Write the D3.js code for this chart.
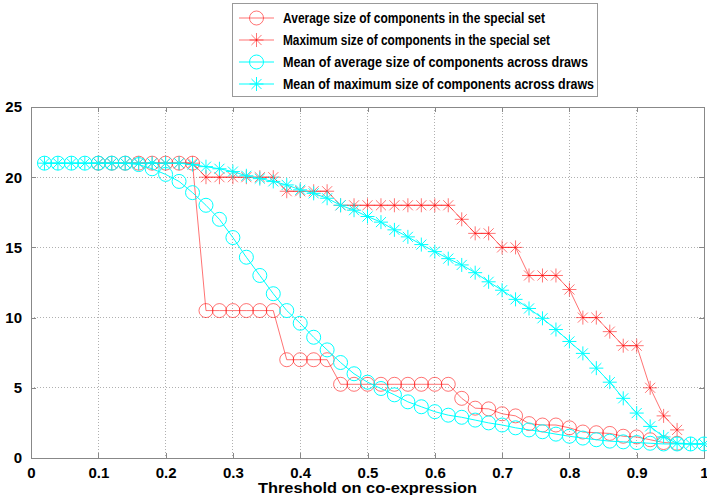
<!DOCTYPE html>
<html>
<head>
<meta charset="utf-8">
<script src="https://cdn.jsdelivr.net/npm/d3@7/dist/d3.min.js"></script>
<style>
  body { margin: 0; background: #fff; }
  text { font-family: "Liberation Sans", Arial, sans-serif; font-weight: bold; fill: #000; }
</style>
</head>
<body>
<script>
//thresholds used for the draws (cyan series)
var thresholdsAll = [0.02,0.04,0.06,0.08,0.10,0.12,0.14,0.16,0.18,0.20,0.22,0.24,0.26,0.28,0.30,0.32,0.34,0.36,0.38,0.40,
  0.42,0.44,0.46,0.48,0.50,0.52,0.54,0.56,0.58,0.60,0.62,0.64,0.66,0.68,0.70,0.72,0.74,0.76,0.78,0.80,
  0.82,0.84,0.86,0.88,0.90,0.92,0.94,0.96,0.98,1.00];
//thresholds used for the special set (red series)
var thresholdsSpecial = [0.10,0.12,0.14,0.16,0.18,0.20,0.22,0.24,0.26,0.28,0.30,0.32,0.34,0.36,0.38,0.40,
  0.42,0.44,0.46,0.48,0.50,0.52,0.54,0.56,0.58,0.60,0.62,0.64,0.66,0.68,0.70,0.72,0.74,0.76,0.78,0.80,
  0.82,0.84,0.86,0.88,0.90,0.92,0.94,0.96];

var avgSpecial = [21,21,21,21,21,21,21,21,10.5,10.5,10.5,10.5,10.5,10.5,7,7,7,7,
  5.25,5.25,5.25,5.25,5.25,5.25,5.25,5.25,5.25,4.25,3.55,3.5,3.15,3.0,2.45,2.35,2.35,2.15,
  1.85,1.8,1.75,1.55,1.5,1.3,1.1,1.05];
var maxSpecial = [21,21,21,21,21,21,21,21,20,20,20,20,20,20,19,19,19,19,
  18,18,18,18,18,18,18,18,18,17,16,16,15,15,13,13,13,12,10,10,9,8,8,5,3,2];
var meanAvgDraws = [21,21,21,21,21,21,21,20.9,20.6,20.2,19.7,18.9,18.0,17.0,15.7,14.3,13.0,11.7,10.5,9.6,
  8.6,7.7,6.8,6.0,5.4,4.95,4.5,4.0,3.65,3.3,3.05,2.9,2.7,2.5,2.35,2.15,2.0,1.87,1.7,1.55,
  1.42,1.3,1.2,1.15,1.1,1.05,1.0,1.0,1.0,1.0];
var meanMaxDraws = [21,21,21,21,21,21,21,21,21,21,21,20.9,20.75,20.6,20.4,20.1,19.9,19.7,19.45,19.1,
  18.85,18.5,18.0,17.65,17.2,16.8,16.25,15.75,15.2,14.7,14.2,13.75,13.2,12.55,11.95,11.3,10.65,9.95,9.15,8.3,
  7.45,6.4,5.4,4.25,3.2,2.25,1.5,1.05,1.0,1.0];

var xTicks = [0,0.1,0.2,0.3,0.4,0.5,0.6,0.7,0.8,0.9,1];
var yTicks = [0,5,10,15,20,25];
var legendLabels = ["Average size of components in the special set",
  "Maximum size of components in the special set",
  "Mean of average size of components across draws",
  "Mean of maximum size of components across draws"];

(function(){
  var series = [
    {x: thresholdsSpecial, y: avgSpecial, color: "#ff0000", op: 0.55, marker: "o"},
    {x: thresholdsSpecial, y: maxSpecial, color: "#ff0000", op: 0.55, marker: "*"},
    {x: thresholdsAll, y: meanAvgDraws, color: "#00ffff", op: 1, marker: "o"},
    {x: thresholdsAll, y: meanMaxDraws, color: "#00ffff", op: 1, marker: "*"}
  ];

  var width = 707, height = 495;
  var pLeft = 31, pRight = 704, pTop = 107, pBottom = 458;

  var svg = d3.select("body").append("svg")
    .attr("width", width).attr("height", height);

  var x = d3.scaleLinear().domain([0, 1]).range([pLeft, pRight]);
  var y = d3.scaleLinear().domain([0, 25]).range([pBottom, pTop]);

  //grid
  var grid = svg.append("g").attr("class", "grid");
  grid.selectAll(".gx").data(xTicks.slice(1, -1)).enter().append("line")
    .attr("x1", function(d){ return x(d); }).attr("x2", function(d){ return x(d); })
    .attr("y1", pTop).attr("y2", pBottom);
  grid.selectAll(".gy").data(yTicks.slice(1, -1)).enter().append("line")
    .attr("x1", pLeft).attr("x2", pRight)
    .attr("y1", function(d){ return y(d); }).attr("y2", function(d){ return y(d); });
  grid.selectAll("line").attr("stroke", "#b0b0b0").attr("stroke-width", 1)
    .attr("stroke-dasharray", "1,2").attr("shape-rendering", "crispEdges");

  //axes, ticks inward like matlab
  var xAxis = d3.axisBottom(x).tickValues(xTicks).tickSizeInner(-5).tickSizeOuter(0)
    .tickPadding(9).tickFormat(function(d){ return d === 0 ? "0" : d === 1 ? "1" : d3.format(".1f")(d); });
  svg.append("g").attr("transform", "translate(0," + pBottom + ")").call(xAxis);
  var yAxis = d3.axisLeft(y).tickValues(yTicks).tickSizeInner(-5).tickSizeOuter(0).tickPadding(9);
  svg.append("g").attr("transform", "translate(" + pLeft + ",0)").call(yAxis);
  var xTop = d3.axisTop(x).tickValues(xTicks).tickSizeInner(-5).tickSizeOuter(0).tickFormat("");
  svg.append("g").attr("transform", "translate(0," + pTop + ")").call(xTop);
  var yRight = d3.axisRight(y).tickValues(yTicks).tickSizeInner(-5).tickSizeOuter(0).tickFormat("");
  svg.append("g").attr("transform", "translate(" + pRight + ",0)").call(yRight);
  svg.selectAll(".domain, .tick line").attr("stroke", "#888").attr("shape-rendering", "crispEdges");
  svg.selectAll(".tick text").style("font-size", "15px").attr("fill", "#000");

  //series
  var line = d3.line();
  function drawMarker(g, cx, cy, s, r){
    if (s.marker === "o") {
      g.append("circle").attr("cx", cx).attr("cy", cy).attr("r", r)
        .attr("fill", "none").attr("stroke", s.color).attr("stroke-opacity", s.op);
    } else {
      var d = r * 0.72;
      var p = "M" + (cx - r) + "," + cy + "H" + (cx + r) +
        "M" + cx + "," + (cy - r) + "V" + (cy + r) +
        "M" + (cx - d) + "," + (cy - d) + "L" + (cx + d) + "," + (cy + d) +
        "M" + (cx - d) + "," + (cy + d) + "L" + (cx + d) + "," + (cy - d);
      g.append("path").attr("d", p).attr("fill", "none")
        .attr("stroke", s.color).attr("stroke-opacity", s.op);
    }
  }
  series.forEach(function(s){
    var g = svg.append("g");
    var pts = s.x.map(function(v, i){ return [x(v), y(s.y[i])]; });
    g.append("path").attr("d", line(pts)).attr("fill", "none")
      .attr("stroke", s.color).attr("stroke-opacity", s.op).attr("stroke-width", 1);
    pts.forEach(function(p){ drawMarker(g, p[0], p[1], s, 7); });
  });

  //x label
  svg.append("text").attr("x", (pLeft + pRight) / 2).attr("y", 493)
    .attr("text-anchor", "middle").style("font-size", "14px")
    .attr("textLength", 219).attr("lengthAdjust", "spacingAndGlyphs")
    .text("Threshold on co-expression");

  //legend
  var legend = svg.append("g");
  legend.append("rect").attr("x", 232.5).attr("y", 3.5).attr("width", 365).attr("height", 93)
    .attr("fill", "#fff").attr("stroke", "#999");
  var legendWidths = [262, 267, 305, 311];
  var rowY = [18, 40, 62, 84];
  series.forEach(function(s, i){
    var ly = rowY[i];
    legend.append("path").attr("d", "M239," + ly + "H274").attr("stroke", s.color)
      .attr("stroke-opacity", s.op).attr("fill", "none");
    drawMarker(legend, 256.5, ly, s, 7);
    legend.append("text").attr("x", 283).attr("y", ly).attr("dy", "0.36em")
      .style("font-size", "15px")
      .attr("textLength", legendWidths[i]).attr("lengthAdjust", "spacingAndGlyphs")
      .text(legendLabels[i]);
  });
})();
</script>
</body>
</html>
